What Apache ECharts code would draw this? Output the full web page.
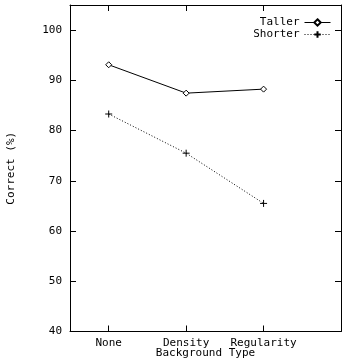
<!DOCTYPE html>
<html><head><meta charset="utf-8">
<script src="https://cdn.jsdelivr.net/npm/echarts@6/dist/echarts.min.js"></script>
<style>html,body{margin:0;padding:0;background:#fff}#c{width:360px;height:360px}</style>
</head><body><div id="c"></div>
<script>
const categories = ['None', 'Density', 'Regularity'];
const categoryPos = [1, 2, 3];
const taller = [93.1, 87.45, 88.25];
const shorter = [83.3, 75.5, 65.5];
const yTicks = [40, 50, 60, 70, 80, 90, 100];

const FONT = 'DejaVu Sans Mono';
const chart = echarts.init(document.getElementById('c'), null, {renderer: 'canvas'});
const txt = {fontFamily: FONT, fontSize: 11, color: '#000'};
const plus = 'path://M0,5L10,5M5,0L5,10';
chart.setOption({
  animation: false,
  backgroundColor: '#fff',
  grid: {left: 70, right: 19, top: 5, bottom: 28.5, outerBoundsMode: 'none', containLabel: false},
  legend: {
    orient: 'vertical', right: 24, top: 12, align: 'right',
    itemWidth: 26, itemHeight: 8, itemGap: 1,
    lineStyle: {width: 1, type: 'inherit'},
    textStyle: Object.assign({}, txt, {padding: [0, 0, 0, 0]}),
    data: ['Taller', 'Shorter']
  },
  xAxis: [{
    type: 'value', min: 0.5, max: 4,
    name: 'Background Type', nameLocation: 'middle', nameGap: 16, nameMoveOverlap: false,
    nameTextStyle: txt,
    axisLine: {show: true, lineStyle: {color: '#000', width: 1}},
    axisTick: {show: true, inside: true, length: 6, customValues: categoryPos, lineStyle: {color: '#000'}},
    axisLabel: Object.assign({}, txt, {margin: 6, customValues: categoryPos,
      formatter: v => categories[categoryPos.indexOf(v)] || ''}),
    splitLine: {show: false}
  }, {
    type: 'value', min: 0.5, max: 4, position: 'top',
    axisLine: {show: true, lineStyle: {color: '#000', width: 1}},
    axisTick: {show: true, inside: true, length: 6, customValues: categoryPos, lineStyle: {color: '#000'}},
    axisLabel: {show: false}, splitLine: {show: false}
  }],
  yAxis: [{
    type: 'value', min: 40, max: 105,
    name: 'Correct (%)', nameLocation: 'middle', nameGap: 53, nameMoveOverlap: false,
    nameTextStyle: txt,
    axisLine: {show: true, lineStyle: {color: '#000', width: 1}},
    axisTick: {show: true, inside: true, length: 6, customValues: yTicks, lineStyle: {color: '#000'}},
    axisLabel: Object.assign({}, txt, {margin: 8, customValues: yTicks}),
    splitLine: {show: false}
  }, {
    type: 'value', min: 40, max: 105, position: 'right',
    axisLine: {show: true, lineStyle: {color: '#000', width: 1}},
    axisTick: {show: true, inside: true, length: 6, customValues: yTicks, lineStyle: {color: '#000'}},
    axisLabel: {show: false}, splitLine: {show: false}
  }],
  series: [{
    name: 'Taller', type: 'line',
    data: categoryPos.map((x, i) => [x, taller[i]]),
    symbol: 'diamond', symbolSize: 6, showAllSymbol: true,
    lineStyle: {color: '#000', width: 1, type: 'solid'},
    itemStyle: {color: '#fff', borderColor: '#000', borderWidth: 1}
  }, {
    name: 'Shorter', type: 'line',
    data: categoryPos.map((x, i) => [x, shorter[i]]),
    symbol: plus, symbolSize: 7, showAllSymbol: true,
    lineStyle: {color: '#000', width: 1, type: [1, 2]},
    itemStyle: {color: '#000', borderColor: '#000', borderWidth: 1}
  }]
});
</script></body></html>
